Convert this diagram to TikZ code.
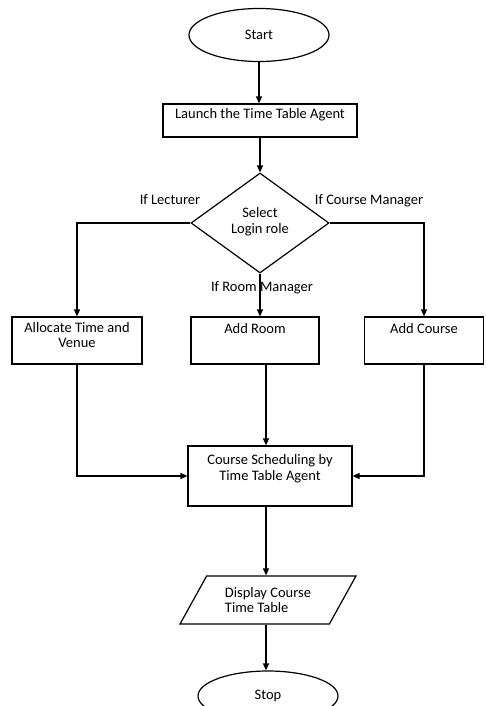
\documentclass[tikz,border=0pt]{standalone}
\usepackage{fontspec}
\setmainfont{Carlito}
\usetikzlibrary{shapes.geometric,arrows.meta}
\begin{document}
\begin{tikzpicture}[x=1pt,y=-1pt,
  every node/.style={font=\fontsize{14.5pt}{15.5pt}\selectfont},
  proc/.style={draw, rectangle, line width=1.2pt, inner xsep=2pt, inner ysep=0pt, align=center},
  term/.style={draw, ellipse, line width=1.2pt, minimum width=140pt, inner sep=0pt},
  flow/.style={line width=1.2pt, -{Triangle[length=7pt,width=6pt]}},
  plain/.style={line width=1.2pt}]
\useasboundingbox (0,0) rectangle (485,706);
\node[term, minimum height=53pt] (start) at (259,35) {Start};
\node[proc, minimum width=194pt, minimum height=33pt, text height=14pt, text depth=19pt] (launch) at (260,120.5) {Launch the Time Table Agent};
\node[diamond, draw, line width=1.2pt, minimum width=138pt, minimum height=100pt, inner sep=0pt, aspect=1.38, align=center, text height=25pt, text depth=5pt] (sel) at (260,223) {Select\\Login role};
\node[proc, minimum width=130pt, minimum height=47pt, text height=30.5pt, text depth=16.5pt] (alloc) at (77,340.5) {Allocate Time and\\Venue};
\node[proc, minimum width=128pt, minimum height=47pt, text height=16pt, text depth=31pt] (room) at (255,340.5) {Add Room};
\node[proc, minimum width=119pt, minimum height=47pt, text height=16pt, text depth=31pt] (course) at (424,340.5) {Add Course};
\node[proc, minimum width=164pt, minimum height=60pt, text height=34pt, text depth=26pt] (sched) at (270,476) {Course Scheduling by\\Time Table Agent};
\node[trapezium, draw, line width=1.2pt, trapezium left angle=54, trapezium right angle=126, trapezium stretches=true, minimum width=176pt, minimum height=48pt, inner sep=0pt, align=left] (disp) at (268,600) {Display Course\\Time Table};
\node[term, minimum height=50pt] (stop) at (268,696) {Stop};
\node (lecl) at (170,200) {If Lecturer};
\node (cml) at (369,201) {If Course Manager};
\node (rml) at (262,288) {If Room Manager};
\coordinate (rm) at (266,0);
\draw[flow] (start.south) -- (start.south |- launch.north);
\draw[flow] (launch.south) -- (sel.north);
\draw[flow] (sel.west) -| (alloc.north);
\draw[flow] (sel.east) -| (course.north);
\draw[flow] (sel.south) -- (sel.south |- room.north);
\draw[flow] (alloc.south) |- (sched.west);
\draw[flow] (course.south) |- (sched.east);
\draw[flow] (room.south -| rm) -- (sched.north -| rm);
\draw[flow] (sched.south -| rm) -- (disp.north -| rm);
\draw[flow] (disp.south -| rm) -- (stop.north -| rm);
\end{tikzpicture}
\end{document}
